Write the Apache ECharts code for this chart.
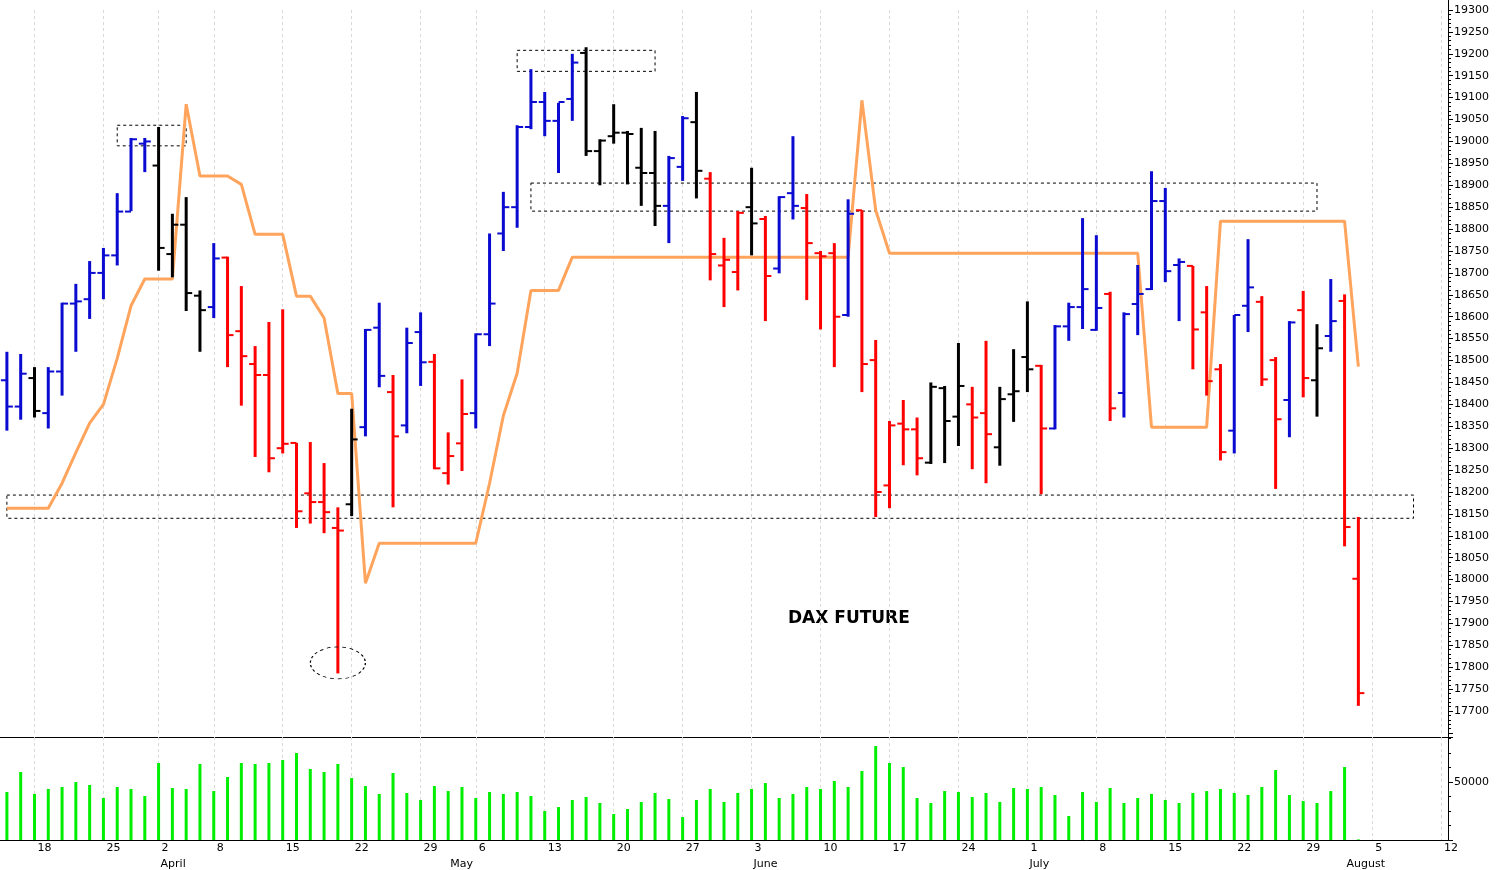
<!DOCTYPE html>
<html><head><meta charset="utf-8">
<script src="https://cdn.jsdelivr.net/npm/echarts@6/dist/echarts.min.js"></script>
<style>html,body{margin:0;padding:0;background:#fff}#c{width:1497px;height:870px}</style>
</head><body><div id="c"></div>
<script>
// trading-day categories (Mar 14 2024 .. Aug 12 2024), holidays skipped
const startDate = '2024-03-14', endDate = '2024-08-12';
const holidays = ['2024-03-29', '2024-04-01', '2024-05-01'];
const monthNames = ['January','February','March','April','May','June','July','August','September','October','November','December'];

const open = [18455,18395,18460,18380,18475,18630,18640,18700,18740,18840,18995,18945,18743,18810,18648,18622,18735,18567,18492,18467,18300,18312,18197,18177,18118,18172,18348,18575,18428,18352,18565,18497,18243,18311,18380,18560,18790,18850,19033,19090,19047,19097,19202,18978,19012,19020,18940,18928,18853,18942,19044,18915,18717,18702,18850,18823,18710,18882,18848,18745,18745,18604,18843,18501,18215,18356,18343,18267,18437,18372,18400,18380,18302,18423,18508,18488,18345,18578,18622,18570,18652,18426,18629,18663,18864,18718,18716,18610,18480,18340,18625,18634,18501,18410,18615,18455,18556,18636,18002];
const high = [18520,18515,18485,18485,18632,18675,18727,18757,18882,19008,19008,19033,18835,18873,18660,18768,18737,18670,18533,18588,18617,18312,18314,18266,18165,18390,18572,18632,18467,18575,18610,18515,18336,18457,18562,18790,18885,19037,19165,19113,19088,19200,19215,19005,19085,19024,19031,19024,18967,19058,19113,18930,18780,18841,18940,18830,18875,19012,18880,18750,18768,18868,18843,18547,18362,18410,18370,18450,18442,18540,18440,18545,18440,18526,18635,18490,18581,18632,18825,18786,18657,18610,18718,18932,18894,18733,18716,18670,18492,18604,18777,18647,18508,18590,18659,18583,18686,18651,18143];
const low = [18340,18365,18370,18345,18420,18520,18595,18640,18717,18841,18930,18705,18690,18613,18520,18597,18485,18397,18280,18245,18288,18118,18128,18106,17786,18145,18327,18439,18165,18334,18442,18252,18217,18248,18345,18533,18750,18803,19028,19012,18928,19047,18967,18900,18995,18902,18853,18807,18768,18910,18870,18683,18622,18660,18740,18590,18699,18822,18638,18571,18485,18600,18428,18143,18163,18261,18238,18264,18266,18305,18252,18220,18260,18360,18428,18195,18343,18545,18572,18568,18362,18370,18558,18661,18679,18590,18480,18420,18272,18288,18565,18442,18207,18325,18416,18372,18520,18076,17712];
const close = [18395,18470,18385,18475,18630,18635,18700,18740,18840,19005,19000,18757,18810,18654,18615,18733,18558,18510,18467,18277,18310,18156,18177,18154,18112,18320,18570,18465,18327,18540,18496,18254,18282,18378,18560,18630,18850,19033,19090,19047,19090,19180,18978,19002,19020,19017,18928,18853,18962,19053,18933,18743,18730,18837,18813,18693,18873,18853,18768,18738,18600,18835,18492,18200,18352,18343,18277,18440,18362,18442,18370,18332,18412,18430,18480,18345,18578,18622,18663,18620,18391,18606,18652,18864,18704,18725,18571,18453,18291,18604,18667,18457,18366,18587,18460,18528,18590,18120,17741];
const barColor = 'bbkbbbbbbbbkkkkbrrrrrrrrrkbbrbbrrrbbbbbbbbkkkkkkbbkrrrkrbbrrrbrrrrrkkkrrkkkrbbbbrbbbbbrrrbbrrbrkbrr'.split('');
const volume = [41400,58600,39700,44000,45700,50000,47400,36200,45700,44000,37900,66400,44800,44000,65500,42200,54300,66400,65500,66400,69000,75000,61200,58600,65500,53400,46500,39700,57800,40500,34500,46500,42200,45700,36200,41400,39700,41400,37900,25000,28400,34500,37100,31900,22400,26700,32800,40500,35300,19800,34500,44000,32800,40500,44000,49100,36200,39700,45700,44000,50900,45700,59500,81000,66400,62900,36200,31900,42200,41400,37100,40500,32800,44800,44000,45700,38800,20700,41400,32800,44800,31900,36200,39700,34500,31900,40500,42200,44000,40500,38800,45700,60300,38800,33600,31900,42200,62900,500];
const indicator = [18163,18163,18163,18163,18220,18290,18357,18400,18505,18625,18686,18686,18686,19085,18921,18921,18921,18902,18788,18788,18788,18647,18647,18597,18425,18425,17992,18083,18083,18083,18083,18083,18083,18083,18083,18220,18374,18471,18660,18660,18660,18736,18736,18736,18736,18736,18736,18736,18736,18736,18736,18736,18736,18736,18736,18736,18736,18736,18736,18736,18736,18736,19094,18843,18745,18745,18745,18745,18745,18745,18745,18745,18745,18745,18745,18745,18745,18745,18745,18745,18745,18745,18745,18348,18348,18348,18348,18348,18818,18818,18818,18818,18818,18818,18818,18818,18818,18818,18486];
// dashed reference boxes: [fromIndex, fromPrice, toIndex, toPrice]
const boxes = [[8,19037,13,18990],[37,19208,47,19160],[38,18905,95,18841],[0,18193,102,18140]];
const circleAt = [24, 17810];
const chartTitle = 'DAX FUTURE';

function fmt(d){return d.toISOString().slice(0,10);}
const dates = [];
for (let d = new Date(startDate+'T00:00:00Z'); fmt(d) <= endDate; d.setUTCDate(d.getUTCDate()+1)) {
  const wd = d.getUTCDay();
  if (wd === 0 || wd === 6 || holidays.includes(fmt(d))) continue;
  dates.push(fmt(d));
}
function dow(s){return new Date(s+'T00:00:00Z').getUTCDay();}
const weekStart = dates.map((s,i)=> i>0 && dow(s) <= dow(dates[i-1]));
const monthStart = dates.map((s,i)=> i>0 && s.slice(5,7) !== dates[i-1].slice(5,7));
const colMap = {b:'#0a0ad0', r:'#ff0000', k:'#000000'};

const ohlc = open.map((o,i)=>[i,o,high[i],low[i],close[i]]);
const chart = echarts.init(document.getElementById('c'));
const gridSplit = {show:true, alignWithLabel:true, interval:(i)=>weekStart[i], lineStyle:{color:'#d8d8d8', type:[3,3], width:1}};
chart.setOption({
  animation:false,
  textStyle:{fontFamily:'DejaVu Sans'},
  grid:[{left:0,right:49,top:10,height:723},{left:0,right:49,top:737,height:103}],
  xAxis:[
    {type:'category',gridIndex:0,data:dates,boundaryGap:true,axisLine:{show:false},axisTick:{show:false},axisLabel:{show:false},splitLine:gridSplit},
    {type:'category',gridIndex:1,data:dates,boundaryGap:true,axisLine:{lineStyle:{color:'#000'}},
      axisTick:{alignWithLabel:true,interval:(i)=>weekStart[i],length:14,lineStyle:{color:'#000'}},
      axisLabel:{interval:(i)=>weekStart[i],formatter:(v)=>String(+v.slice(8,10)),align:'left',padding:[0,0,0,3],margin:3,fontSize:11,color:'#000'},
      splitLine:gridSplit},
    {type:'category',gridIndex:1,data:dates,boundaryGap:true,position:'bottom',axisLine:{show:false},
      axisTick:{alignWithLabel:true,interval:(i)=>monthStart[i],length:30,lineStyle:{color:'#000'}},
      axisLabel:{interval:(i)=>monthStart[i],formatter:(v)=>monthNames[+v.slice(5,7)-1],align:'left',padding:[0,0,0,2],margin:19,fontSize:11,color:'#000'}}
  ],
  yAxis:[
    {type:'value',gridIndex:0,position:'right',min:17650,max:19300,interval:50,
      axisLine:{show:true,lineStyle:{color:'#000'}},axisTick:{show:true,length:5},
      minorTick:{show:true,splitNumber:5,length:3,lineStyle:{color:'#000'}},splitLine:{show:false},
      axisLabel:{fontSize:11,color:'#000',margin:6,formatter:(v)=>v===17650?'':String(v)}},
    {type:'value',gridIndex:1,position:'right',min:0,max:88800,interval:50000,
      axisLine:{show:true,lineStyle:{color:'#000'}},axisTick:{show:true,length:5},
      minorTick:{show:true,splitNumber:4,length:3,lineStyle:{color:'#000'}},splitLine:{show:false},
      axisLabel:{fontSize:11,color:'#000',margin:6,formatter:(v)=>v===50000?'50000':''}}
  ],
  graphic:[
    {type:'line',shape:{x1:0,y1:737.5,x2:1448,y2:737.5},style:{stroke:'#000',lineWidth:1}},
    {type:'line',shape:{x1:1448.5,y1:0,x2:1448.5,y2:840},style:{stroke:'#000',lineWidth:1}},
    {type:'text',left:788,top:610,style:{text:chartTitle,font:'bold 17px DejaVu Sans',fill:'#000'}}
  ],
  series:[
    {type:'custom',xAxisIndex:0,yAxisIndex:0,data:ohlc,encode:{x:0,y:[1,2,3,4]},
      renderItem:function(params,api){
        const i=api.value(0);
        const pO=api.coord([i,api.value(1)]), pH=api.coord([i,api.value(2)]),
              pL=api.coord([i,api.value(3)]), pC=api.coord([i,api.value(4)]);
        const col=colMap[barColor[params.dataIndex]];
        const x=pH[0];
        return {type:'group',children:[
          {type:'line',shape:{x1:x,y1:pH[1],x2:x,y2:pL[1]},style:{stroke:col,lineWidth:3}},
          {type:'line',shape:{x1:x-6,y1:pO[1],x2:x,y2:pO[1]},style:{stroke:col,lineWidth:2}},
          {type:'line',shape:{x1:x,y1:pC[1],x2:x+6,y2:pC[1]},style:{stroke:col,lineWidth:2}}
        ]};
      },
      markPoint:{symbol:'circle',symbolSize:[55,32],label:{show:false},silent:true,
        itemStyle:{color:'rgba(0,0,0,0)',borderColor:'#000',borderWidth:1,borderType:[3,3]},
        data:[{coord:[circleAt[0],circleAt[1]]}]}
    },
    {type:'line',xAxisIndex:0,yAxisIndex:0,data:indicator,symbol:'none',z:1,
      lineStyle:{color:'#ffa45c',width:3},
      markArea:{silent:true,itemStyle:{color:'rgba(0,0,0,0)',borderColor:'#000',borderWidth:1,borderType:[3,3]},
        data:boxes.map(b=>[{coord:[b[0],b[1]]},{coord:[b[2],b[3]]}])}
    },
    {type:'bar',xAxisIndex:1,yAxisIndex:1,data:volume,barWidth:3,itemStyle:{color:'#00ee00'}}
  ]
});
</script></body></html>
